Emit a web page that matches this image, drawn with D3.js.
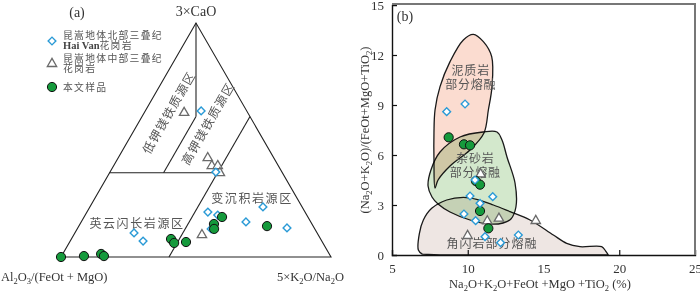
<!DOCTYPE html>
<html>
<head>
<meta charset="utf-8">
<script src="https://cdn.jsdelivr.net/npm/d3@7"></script>
<style>
  body { margin: 0; background: #fff; }
  .cjk { font-family: "Noto Sans CJK SC", sans-serif; fill: #555; }
  .lat { font-family: "Liberation Serif", "DejaVu Serif", serif; fill: #333; }
</style>
</head>
<body>
<div id="chart"></div>
<script>
// ---- Panel (a): ternary data, [3xCaO, Al2O3/(FeOt+MgO), 5xK2O/Na2O] fractions ----
const ternThisStudy = [
  [0.000, 1.000, 0.000], [0.004, 0.913, 0.083], [0.013, 0.845, 0.142], [0.004, 0.839, 0.157],
  [0.077, 0.554, 0.369], [0.060, 0.551, 0.389], [0.064, 0.505, 0.431], [0.141, 0.363, 0.496],
  [0.120, 0.373, 0.507], [0.171, 0.318, 0.511], [0.132, 0.171, 0.697]
];
const ternHaiVan = [
  [0.624, 0.169, 0.207], [0.363, 0.245, 0.392], [0.103, 0.678, 0.219], [0.068, 0.662, 0.270],
  [0.192, 0.360, 0.448], [0.179, 0.330, 0.491], [0.120, 0.384, 0.496], [0.150, 0.240, 0.610],
  [0.214, 0.145, 0.641], [0.124, 0.101, 0.775]
];
const ternCentral = [
  [0.620, 0.234, 0.146], [0.427, 0.243, 0.330], [0.393, 0.245, 0.362],
  [0.393, 0.223, 0.384], [0.363, 0.230, 0.407], [0.098, 0.429, 0.473]
];
// field boundaries (pairs of ternary points)
const ternBoundaries = [
  [[1.0, 0.0, 0.0], [0.6, 0.2, 0.2]],
  [[0.6, 0.2, 0.2], [0.36, 0.44, 0.2]],
  [[0.36, 0.64, 0.0], [0.36, 0.24, 0.4]],
  [[0.6, 0.0, 0.4], [0.0, 0.6, 0.4]]
];
const ternLabels = ["低钾镁铁质源区", "高钾镁铁质源区", "英云闪长岩源区", "变沉积岩源区"];

// ---- Panel (b): Na2O+K2O+FeOt+MgO+TiO2 vs (Na2O+K2O)/(FeOt+MgO+TiO2) ----
const bThisStudy = [[8.74, 7.06], [9.75, 6.64], [10.15, 6.58], [10.54, 4.44], [10.81, 4.22], [10.81, 2.64], [11.36, 1.6]];
const bHaiVan = [[8.61, 8.6], [9.82, 9.06], [10.48, 4.5], [10.15, 3.54], [10.81, 3.1], [11.65, 3.5],
  [9.75, 2.46], [10.52, 2.06], [11.14, 1.1], [12.17, 0.74], [13.34, 1.2]];
const bCentral = [[11.29, 2.08], [12.06, 2.24], [9.99, 1.2], [14.49, 2.1], [10.85, 4.9]];

const pelite = [[10.37, 13.24], [11.03, 12.8], [11.58, 11.9], [11.6, 10.1], [11.36, 8.7], [11.07, 7.32],
  [10.15, 6.3], [8.83, 5.34], [8.04, 4.5], [7.84, 4.02], [7.77, 5.7], [7.77, 7.32], [7.84, 8.7],
  [8.17, 10.1], [8.83, 11.6], [9.71, 12.9]];
const greywacke = [[11.01, 7.38], [11.93, 7.38], [12.26, 6.9], [12.59, 5.88], [13.12, 4.32], [13.18, 2.88],
  [12.85, 2.16], [12.33, 1.92], [11.34, 1.86], [10.15, 2.1], [8.83, 2.58], [8.04, 3.06], [7.64, 3.48],
  [7.38, 4.14], [7.57, 5.1], [8.17, 6.18], [9.49, 7.08]];
const amphibolite = [[7.0, 0.05], [6.74, 0.3], [6.81, 1.3], [7.07, 2.1], [7.62, 2.8], [8.61, 3.3], [9.71, 3.46],
  [10.59, 3.34], [11.69, 3.0], [12.79, 2.6], [14.11, 2.1], [15.65, 1.2], [16.53, 0.7], [17.41, 0.5],
  [18.84, 0.5], [19.13, 0.2], [19.28, 0]];
const amphiboliteBase = [8.17, 0];

const xTicks = [5, 10, 15, 20, 25];
const yTicks = [0, 3, 6, 9, 12, 15];

const legendItems = [
  { shape: "diamond", lines: ["昆嵩地体北部三叠纪", "Hai Van|花岗岩"] },
  { shape: "triangle", lines: ["昆嵩地体中部三叠纪", "花岗岩"] },
  { shape: "circle", lines: ["本文样品"] }
];

// Styling
const blue = "#2a9ad6", grey = "#6a6a6a", green = "#159a3c";

const svg = d3.select("#chart").append("svg")
  .attr("width", 700).attr("height", 292);

// text with _n subscripts
function rich(sel, str, size) {
  let shift = 0;
  str.split(/(_\d)/).forEach(p => {
    if (!p) return;
    const sub = p[0] === "_";
    const t = sel.append("tspan").text(sub ? p.slice(1) : p);
    if (sub) { t.attr("dy", size * 0.25).attr("font-size", size * 0.68); shift = -size * 0.25; }
    else if (shift) { t.attr("dy", shift); shift = 0; }
  });
  return sel;
}

// markers
const diamondPath = d3.symbol(d3.symbolSquare, 30)();
const trianglePath = d3.symbol(d3.symbolTriangle, 38)();
function drawMarker(g, shape, x, y) {
  if (shape === "circle") {
    g.append("circle").attr("cx", x).attr("cy", y).attr("r", 4.6)
      .attr("fill", green).attr("stroke", "#111").attr("stroke-width", 1);
  } else if (shape === "diamond") {
    g.append("path").attr("d", diamondPath)
      .attr("transform", `translate(${x},${y}) rotate(45)`)
      .attr("fill", "#fff").attr("stroke", blue).attr("stroke-width", 1.4);
  } else {
    g.append("path").attr("d", trianglePath)
      .attr("transform", `translate(${x},${y + 0.8})`)
      .attr("fill", "#fff").attr("stroke", grey).attr("stroke-width", 1.3);
  }
}

/** Panel (a) ternary */
const tx = d3.scaleLinear().domain([0, 1]).range([61, 331]);
const ty = d3.scaleLinear().domain([0, 1]).range([257, 23]);
const tern = d => [tx(d[2] + d[0] / 2), ty(d[0])];

const ga = svg.append("g");
ga.append("path")
  .attr("d", d3.line()([[1, 0, 0], [0, 1, 0], [0, 0, 1]].map(tern)) + "Z")
  .attr("fill", "none").attr("stroke", "#222").attr("stroke-width", 1.1);
ternBoundaries.forEach(b => {
  ga.append("path").attr("d", d3.line()(b.map(tern)))
    .attr("stroke", "#222").attr("stroke-width", 1.1).attr("fill", "none");
});

// field labels
const rotLabel = (txt, p, rot, ls) => ga.append("text").attr("class", "cjk")
  .attr("transform", `translate(${p[0]},${p[1]}) rotate(${rot})`)
  .attr("text-anchor", "middle").attr("dominant-baseline", "central")
  .attr("font-size", 12).attr("letter-spacing", ls).text(txt);
rotLabel(ternLabels[0], [168, 112], -60, 1.3);
rotLabel(ternLabels[1], [207, 123], -60, 1.3);
rotLabel(ternLabels[2], [137, 222], 0, 1.6);
rotLabel(ternLabels[3], [252, 197], 0, 1.6);

ternCentral.forEach(d => drawMarker(ga, "triangle", ...tern(d)));
ternHaiVan.forEach(d => drawMarker(ga, "diamond", ...tern(d)));
ternThisStudy.forEach(d => drawMarker(ga, "circle", ...tern(d)));

ga.append("text").attr("class", "lat").attr("x", 77).attr("y", 17)
  .attr("text-anchor", "middle").attr("font-size", 14).text("(a)");
rich(ga.append("text").attr("class", "lat").attr("x", 196).attr("y", 16)
  .attr("text-anchor", "middle").attr("font-size", 14), "3×CaO", 14);
rich(ga.append("text").attr("class", "lat").attr("x", 1).attr("y", 281)
  .attr("font-size", 12.5), "Al_2O_3/(FeOt + MgO)", 12.5);
rich(ga.append("text").attr("class", "lat").attr("x", 277).attr("y", 281)
  .attr("font-size", 12.5), "5×K_2O/Na_2O", 12.5);

// legend
const legY = [41, 63, 87];
const legText = [[38.5, 49], [61.5, 72], [90.5]];
legendItems.forEach((item, i) => {
  drawMarker(ga, item.shape, 52, legY[i]);
  item.lines.forEach((ln, j) => {
    const t = ga.append("text").attr("class", "cjk").attr("x", 63)
      .attr("y", legText[i][j])
      .attr("font-size", 9.8).attr("letter-spacing", 1.3);
    if (ln.includes("|")) {
      const [a, b] = ln.split("|");
      t.append("tspan").attr("font-family", "Liberation Serif").attr("font-weight", "bold")
        .attr("font-size", 10.5).attr("fill", "#444").attr("letter-spacing", 0).text(a);
      t.append("tspan").text(b);
    } else t.text(ln);
  });
});

/** Panel (b) */
const x = d3.scaleLinear().domain([5, 25]).range([392, 695]);
const y = d3.scaleLinear().domain([0, 15]).range([255, 5]);
const gb = svg.append("g");
const smooth = d3.line().x(d => x(d[0])).y(d => y(d[1])).curve(d3.curveCatmullRomClosed.alpha(0.5));
const smoothOpen = d3.line().x(d => x(d[0])).y(d => y(d[1])).curve(d3.curveCatmullRom.alpha(0.5));

gb.append("path").attr("d", smooth(pelite))
  .attr("fill", "#fbdcd0").attr("stroke", "#1a1a1a").attr("stroke-width", 1.3);
gb.append("path").attr("d", smooth(greywacke))
  .attr("fill", "#d3e8cc").style("mix-blend-mode", "multiply")
  .attr("stroke", "#1a1a1a").attr("stroke-width", 1.3);
gb.append("path")
  .attr("d", smoothOpen(amphibolite) + `L${x(amphiboliteBase[0])},${y(0)}Z`)
  .attr("fill", "#eee6e3").style("mix-blend-mode", "multiply")
  .attr("stroke", "#1a1a1a").attr("stroke-width", 1.3);

const fieldText = (lines, cx, cy, ls) => lines.forEach((ln, i) =>
  gb.append("text").attr("class", "cjk").attr("x", cx).attr("y", cy + i * 14)
    .attr("text-anchor", "middle").attr("font-size", 12).attr("letter-spacing", ls).text(ln));
fieldText(["泥质岩", "部分熔融"], x(10.2), y(10.8), 0.8);
fieldText(["杂砂岩", "部分熔融"], x(10.5), y(5.5), 0.8);
fieldText(["角闪岩部分熔融"], x(11.6), y(0.45), 1);

// axes, inward ticks
gb.append("g").attr("transform", `translate(0,${y(0)})`)
  .call(d3.axisBottom(x).tickValues(xTicks).tickSize(-5).tickPadding(9))
  .call(g => g.selectAll("text").attr("class", "lat").attr("font-size", 13).attr("fill", "#333"));
gb.append("g").attr("transform", `translate(${x(5)},0)`)
  .call(d3.axisLeft(y).tickValues(yTicks).tickSize(-5).tickPadding(8))
  .call(g => g.selectAll("text").attr("class", "lat").attr("font-size", 13).attr("fill", "#333"));
gb.selectAll(".domain").attr("stroke", "#111").attr("stroke-width", 1.4);
gb.selectAll(".tick line").attr("stroke", "#111").attr("stroke-width", 1.2);
gb.selectAll(".tick").filter(d => d === 5 || d === 25 || d === 0 || d === 15).select("line").remove();
// top / right frame
gb.append("path").attr("d", `M${x(5)},${y(15) - 1}H${x(25)}V${y(0)}`)
  .attr("fill", "none").attr("stroke", "#777").attr("stroke-width", 2);

bCentral.forEach(d => drawMarker(gb, "triangle", x(d[0]), y(d[1])));
bThisStudy.forEach(d => drawMarker(gb, "circle", x(d[0]), y(d[1])));
bHaiVan.forEach(d => drawMarker(gb, "diamond", x(d[0]), y(d[1])));

gb.append("text").attr("class", "lat").attr("x", 405).attr("y", 21)
  .attr("text-anchor", "middle").attr("font-size", 14).text("(b)");
rich(gb.append("text").attr("class", "lat")
  .attr("transform", "translate(369,130) rotate(-90)")
  .attr("text-anchor", "middle").attr("font-size", 12.5), "(Na_2O+K_2O)/(FeOt+MgO+TiO_2)", 12.5);
rich(gb.append("text").attr("class", "lat").attr("x", 540).attr("y", 288)
  .attr("text-anchor", "middle").attr("font-size", 12.5), "Na_2O+K_2O+FeOt +MgO +TiO_2 (%)", 12.5);
</script>
</body>
</html>
